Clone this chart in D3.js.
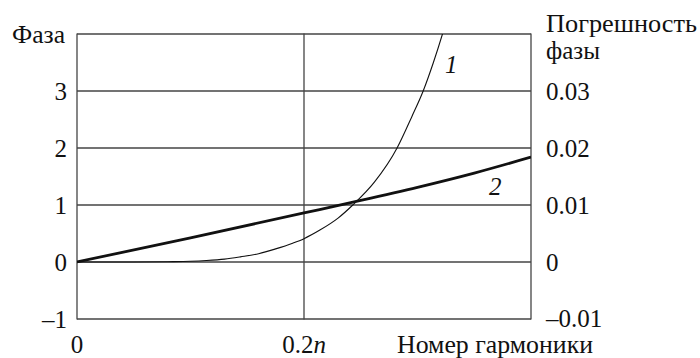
<!DOCTYPE html>
<html><head><meta charset="utf-8">
<script src="https://cdn.jsdelivr.net/npm/d3@7"></script>
<style>
@font-face { font-family: "RefSerif"; src: local("Liberation Serif"), local("LiberationSerif"), local("Tinos"), local("Nimbus Roman"); font-style: normal; }
@font-face { font-family: "RefSerif"; src: local("Liberation Serif Italic"), local("LiberationSerif-Italic"), local("Tinos Italic"); font-style: italic; }
</style>
</head><body style="margin:0">
<svg id="c" width="700" height="358"></svg>
<script>
const leftTicks = [-1, 0, 1, 2, 3];
const leftTickLabels = ["–1", "0", "1", "2", "3"];
const rightTickLabels = ["–0.01", "0", "0.01", "0.02", "0.03"];
const xTicks = [0, 0.2];
const xTickLabels = ["0", "0.2n"];
// curve 1: thin line
const curve1X = [0, 0.05, 0.08, 0.1, 0.114, 0.13, 0.144, 0.16, 0.175, 0.19, 0.2, 0.214, 0.23, 0.243, 0.262, 0.282, 0.295, 0.305, 0.314, 0.322, 0.33];
const curve1Y = [0, 0, 0.005, 0.012, 0.025, 0.05, 0.09, 0.145, 0.23, 0.33, 0.41, 0.56, 0.77, 1.0, 1.4, 2.0, 2.55, 3.0, 3.5, 4.0, 4.55];
// curve 2: thick line
const curve2X = [0, 0.1, 0.2, 0.25, 0.3, 0.35, 0.4];
const curve2Y = [0, 0.425, 0.86, 1.08, 1.31, 1.56, 1.84];

const FONT = '"Liberation Serif", RefSerif, Tinos, "Nimbus Roman", FreeSerif, serif';
const svg = d3.select("#c");
const L = 77, R = 531, T = 34, B = 319;
const x = d3.scaleLinear().domain([0, 0.4]).range([L, R]);
const y = d3.scaleLinear().domain([-1, 4]).range([B, T]);
const fs = 25;

function txt(sel) {
  return sel.style("font-family", FONT).attr("font-size", fs).attr("fill", "#111");
}

const g = svg.append("g");
g.selectAll("line.h").data(leftTicks.concat([4])).join("line")
  .attr("x1", L).attr("x2", R).attr("y1", d => y(d)).attr("y2", d => y(d))
  .attr("stroke", "#444").attr("stroke-width", 1.3);
g.selectAll("line.v").data([0, 0.2, 0.4]).join("line")
  .attr("x1", d => x(d)).attr("x2", d => x(d)).attr("y1", T - 0.6).attr("y2", B + 0.6)
  .attr("stroke", "#444").attr("stroke-width", 1.3);

txt(svg.selectAll("text.l").data(leftTicks).join("text"))
  .attr("x", L - 10).attr("y", d => y(d) + 9).attr("text-anchor", "end")
  .text((d, i) => leftTickLabels[i]);
txt(svg.selectAll("text.r").data(leftTicks).join("text"))
  .attr("x", 546).attr("y", d => y(d) + (d < 0 ? 8 : 9))
  .text((d, i) => rightTickLabels[i]);
txt(svg.selectAll("text.x").data(xTicks).join("text"))
  .attr("x", d => x(d)).attr("y", 353).attr("text-anchor", "middle")
  .each(function(d, i) {
    const t = d3.select(this); const s = xTickLabels[i];
    if (s.endsWith("n")) { t.append("tspan").text(s.slice(0, -1)); t.append("tspan").attr("font-style", "italic").text("n"); }
    else t.text(s);
  });
txt(svg.append("text")).attr("x", 397).attr("y", 353).attr("textLength", 196).attr("lengthAdjust", "spacingAndGlyphs").text("Номер гармоники");
txt(svg.append("text")).attr("x", 12).attr("y", 43).attr("textLength", 53).attr("lengthAdjust", "spacingAndGlyphs").text("Фаза");
txt(svg.append("text")).attr("x", 546).attr("y", 32).attr("textLength", 151).attr("lengthAdjust", "spacingAndGlyphs").text("Погрешность");
txt(svg.append("text")).attr("x", 546).attr("y", 59).text("фазы");

svg.append("clipPath").attr("id", "pc").append("rect").attr("x", L).attr("y", T).attr("width", R - L).attr("height", B - T);
const line = d3.line().x(d => x(d[0])).y(d => y(d[1])).curve(d3.curveMonotoneX);
svg.append("path").datum(d3.zip(curve1X, curve1Y)).attr("d", line)
  .attr("fill", "none").attr("stroke", "#111").attr("stroke-width", 1.1).attr("clip-path", "url(#pc)");
svg.append("path").datum(d3.zip(curve2X, curve2Y)).attr("d", line)
  .attr("fill", "none").attr("stroke", "#111").attr("stroke-width", 2.8).attr("clip-path", "url(#pc)");

txt(svg.append("text")).attr("x", 445).attr("y", 73).attr("font-style", "italic").text("1");
txt(svg.append("text")).attr("x", 489).attr("y", 195).attr("font-style", "italic").text("2");
</script>
</body></html>
